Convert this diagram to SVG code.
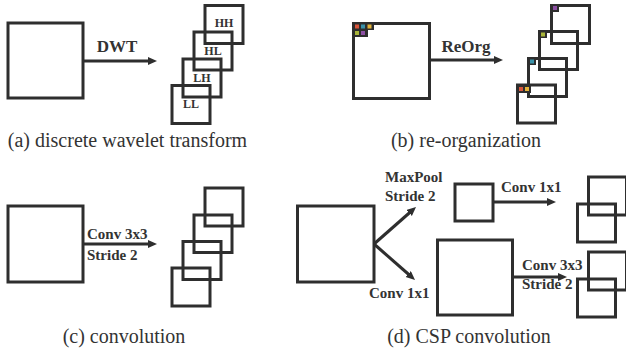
<svg xmlns="http://www.w3.org/2000/svg" width="626" height="354" viewBox="0 0 626 354">
<style>
.box{fill:none;stroke:#2e2e2e;stroke-width:3}
.arr{fill:none;stroke:#2e2e2e;stroke-width:3;marker-end:url(#ah)}
.lbl{font-family:"Liberation Serif","Times New Roman",serif;font-weight:bold;fill:#333;font-size:15px}
.big{font-size:17px}
.sm{font-size:12px;text-anchor:middle}
.cap{font-family:"Liberation Serif","Times New Roman",serif;fill:#333;font-size:20px;text-anchor:middle}
.frame{fill:#2e2e2e}
</style>
<defs>
<marker id="ah" markerUnits="userSpaceOnUse" markerWidth="10" markerHeight="9" refX="3" refY="4" orient="auto">
<path d="M0,0 L9,4 L0,8 z" fill="#2e2e2e"/>
</marker>
</defs>
<rect width="626" height="354" fill="#fff"/>

<g id="a-input"><rect class="box" x="8" y="23" width="75" height="75"/></g>
<g id="a-outputs">
<rect class="box" x="205" y="5.5" width="38" height="38"/>
<rect class="box" x="194" y="32" width="38" height="38"/>
<rect class="box" x="183" y="59" width="38" height="38"/>
<rect class="box" x="172" y="85.5" width="38" height="38"/>
<text class="lbl sm" x="224" y="27">HH</text>
<text class="lbl sm" x="213" y="55">HL</text>
<text class="lbl sm" x="202" y="82">LH</text>
<text class="lbl sm" x="191" y="108">LL</text>
</g>
<text class="cap" x="127.5" y="147">(a) discrete wavelet transform</text>

<g id="b-input">
<rect class="box" x="353.5" y="23.5" width="76" height="75"/>
<path class="frame" d="M352,22 H374 V30 H368 V37 H352 z"/>
<rect x="355" y="24.5" width="4" height="4" fill="#d9553a"/>
<rect x="361" y="24.5" width="4" height="4" fill="#3a93aa"/>
<rect x="367.5" y="24.5" width="4" height="4" fill="#e6b53a"/>
<rect x="355" y="31" width="4" height="4" fill="#a9b53a"/>
<rect x="361" y="31" width="4" height="4" fill="#8c4fa3"/>
</g>
<g id="b-outputs">
<rect class="box" x="551.5" y="5.5" width="38" height="38"/>
<rect class="box" x="539.5" y="31.5" width="38" height="38"/>
<rect class="box" x="528.5" y="58.5" width="38" height="38"/>
<rect class="box" x="517.5" y="85" width="38" height="38"/>
<path class="frame" d="M550,4 H559 V12 H550 z"/>
<rect x="553" y="6" width="4" height="4" fill="#8c4fa3"/>
<path class="frame" d="M538,30 H547 V38 H538 z"/>
<rect x="541" y="32.5" width="4" height="4" fill="#a9b53a"/>
<path class="frame" d="M527,57 H536 V65 H527 z"/>
<rect x="530" y="59.5" width="4" height="4" fill="#3a93aa"/>
<path class="frame" d="M516,84 H531 V93 H516 z"/>
<rect x="519" y="87" width="4" height="4" fill="#d9553a"/>
<rect x="525" y="87" width="4" height="4" fill="#e6b53a"/>
</g>
<text class="cap" x="466" y="147">(b) re-organization</text>

<g id="c-input"><rect class="box" x="8" y="206" width="75" height="76"/></g>
<g id="c-outputs">
<rect class="box" x="205" y="188" width="38" height="38"/>
<rect class="box" x="194" y="215" width="38" height="37.5"/>
<rect class="box" x="183" y="241.5" width="38" height="38"/>
<rect class="box" x="172" y="268" width="38" height="38"/>
</g>
<text class="cap" x="124" y="343">(c) convolution</text>

<g id="d-input"><rect class="box" x="297.5" y="206" width="76.5" height="76"/></g>
<g id="d-pool"><rect class="box" x="455" y="184" width="38" height="37"/></g>
<g id="d-conv"><rect class="box" x="437.5" y="240" width="75" height="75"/></g>
<g id="d-out-top">
<rect class="box" x="588.5" y="177" width="38" height="38"/>
<rect class="box" x="577.5" y="204" width="38" height="38"/>
</g>
<g id="d-out-bottom">
<rect class="box" x="588.5" y="252" width="38" height="38"/>
<rect class="box" x="577.5" y="279" width="38" height="38"/>
</g>
<text class="cap" x="469" y="343">(d) CSP convolution</text>

<g id="connectors">
<line class="arr" x1="83" y1="61" x2="151" y2="61"/>
<line class="arr" x1="430" y1="60" x2="497" y2="60"/>
<line class="arr" x1="83" y1="244" x2="151" y2="244"/>
<line class="arr" x1="374" y1="244" x2="411.5" y2="211"/>
<line class="arr" x1="374" y1="244" x2="410.5" y2="276"/>
<line class="arr" x1="493" y1="202" x2="550" y2="202"/>
<line class="arr" x1="512" y1="277" x2="561" y2="277"/>
</g>
<g id="labels">
<text class="lbl big" x="117" y="52" text-anchor="middle">DWT</text>
<text class="lbl big" x="466" y="52" text-anchor="middle">ReOrg</text>
<text class="lbl" x="87" y="239">Conv 3x3</text>
<text class="lbl" x="87" y="260">Stride 2</text>
<text class="lbl" x="385" y="182">MaxPool</text>
<text class="lbl" x="385" y="201">Stride 2</text>
<text class="lbl" x="369" y="298">Conv 1x1</text>
<text class="lbl" x="501" y="192">Conv 1x1</text>
<text class="lbl" x="522" y="270">Conv 3x3</text>
<text class="lbl" x="522" y="289">Stride 2</text>
</g>
</svg>
